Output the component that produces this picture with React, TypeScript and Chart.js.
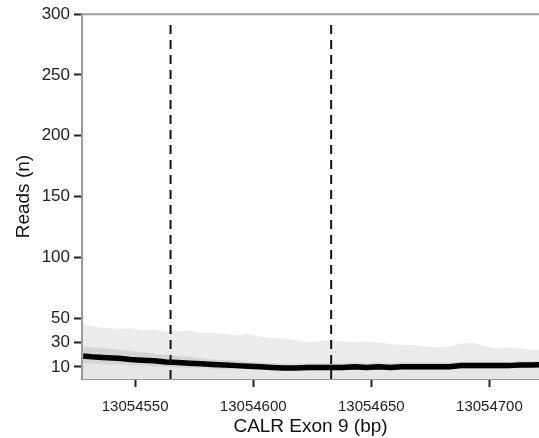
import React, { useEffect, useRef } from "react";
import { Chart, registerables } from "chart.js";

Chart.register(...registerables);

const positions = [
  13054528, 13054533, 13054538, 13054543, 13054548, 13054553, 13054558, 13054563,
  13054568, 13054573, 13054578, 13054583, 13054588, 13054593, 13054598, 13054603,
  13054608, 13054613, 13054618, 13054623, 13054628, 13054633, 13054638, 13054643,
  13054648, 13054653, 13054658, 13054663, 13054668, 13054673, 13054678, 13054683,
  13054688, 13054693, 13054698, 13054703, 13054708, 13054713, 13054718, 13054723,
];
const outerUpper = [
  45, 43, 42, 41, 42, 40, 41, 39, 39, 40, 38, 38, 37, 36, 37, 35,
  34, 33, 32, 30, 31, 32, 31, 30, 31, 30, 29, 28, 28, 27, 26, 27,
  29, 30, 27, 25, 26, 25, 24, 24,
];
const innerUpper = [
  27, 26, 25, 24, 23, 22, 21, 20, 19, 18, 17, 16, 15.5, 15, 14, 13.5,
  13, 12.5, 12.5, 13, 13, 13, 13, 13.5, 13, 13.5, 13, 13.5, 13.5, 13.5, 13.5, 13.5,
  14, 14, 14, 14, 14, 14.5, 14.5, 15,
];
const innerLower = [
  13, 12.5, 12, 12, 11, 11, 10.5, 10, 9.5, 9, 9, 8.5, 8, 8, 8, 7.5,
  7, 7, 7, 7, 7, 7, 7, 7.5, 7, 7.5, 7, 7.5, 7.5, 7.5, 7.5, 7.5,
  8.5, 8.5, 8.5, 8.5, 8.5, 9, 9, 9.5,
];
const meanReads = [
  19, 18, 17.5, 17, 16, 15.5, 15, 14, 13.5, 13, 12.5, 12, 11.5, 11, 10.5, 10,
  9.5, 9, 9, 9.5, 9.5, 9.5, 9.5, 10, 9.5, 10, 9.5, 10, 10, 10, 10, 10,
  11, 11, 11, 11, 11, 11.5, 11.5, 12,
];
const exonBounds = [13054565, 13054633];
const dashTop = 292;
const xTicks = [13054550, 13054600, 13054650, 13054700];
const yTicks = [10, 30, 50, 100, 150, 200, 250, 300];
const xMin = 13054527.5;
const xMax = 13054721;

const pts = (ys: number[]) => positions.map((x, i) => ({ x, y: ys[i] }));

const topBorder = {
  id: "topBorder",
  afterDraw(chart: any) {
    const { ctx, chartArea } = chart;
    ctx.save();
    ctx.strokeStyle = "#9a9a9a";
    ctx.lineWidth = 2;
    ctx.beginPath();
    ctx.moveTo(chartArea.left, chartArea.top);
    ctx.lineTo(chartArea.right, chartArea.top);
    ctx.stroke();
    ctx.restore();
  },
};

export default function App() {
  const ref = useRef<HTMLCanvasElement>(null);
  useEffect(() => {
    if (!ref.current) return;
    const datasets: any[] = [
      {
        data: pts(outerUpper),
        borderWidth: 0,
        pointRadius: 0,
        fill: "origin",
        backgroundColor: "#ebebeb",
        order: 4,
      },
      {
        data: pts(innerUpper),
        borderWidth: 0,
        pointRadius: 0,
        fill: "origin",
        backgroundColor: "#d5d5d5",
        order: 3,
      },
      {
        data: pts(innerLower),
        borderWidth: 0,
        pointRadius: 0,
        fill: "origin",
        backgroundColor: "#e6e6e6",
        order: 2,
      },
      {
        data: pts(meanReads),
        borderColor: "#000",
        borderWidth: 5.5,
        pointRadius: 0,
        fill: false,
        order: 1,
      },
      ...exonBounds.map((b) => ({
        data: [
          { x: b, y: 0 },
          { x: b, y: dashTop },
        ],
        borderColor: "#111",
        borderWidth: 2,
        borderDash: [9, 6],
        pointRadius: 0,
        fill: false,
        order: 0,
      })),
    ];
    const chart = new Chart(ref.current, {
      type: "line",
      data: { datasets },
      plugins: [topBorder],
      options: {
        responsive: false,
        animation: false,
        layout: { padding: { top: 13, left: 0, right: 0, bottom: 0 } },
        plugins: { legend: { display: false }, tooltip: { enabled: false } },
        scales: {
          x: {
            type: "linear",
            min: xMin,
            max: xMax,
            afterBuildTicks: (s: any) => {
              s.ticks = xTicks.map((v) => ({ value: v }));
            },
            afterFit: (s: any) => {
              s.height = 59;
            },
            grid: {
              drawOnChartArea: false,
              drawTicks: true,
              tickLength: 8,
              tickColor: "#222",
              tickWidth: 2,
            },
            border: { display: true, color: "#9a9a9a", width: 2 },
            ticks: {
              padding: 11,
              color: "#222",
              font: { family: "Liberation Sans", size: 15 },
              callback: (v: any) => String(v),
              maxRotation: 0,
              autoSkip: false,
            },
            title: {
              display: true,
              text: "CALR Exon 9 (bp)",
              color: "#111",
              font: { family: "Liberation Sans", size: 19 },
              padding: { top: 0, bottom: 0 },
            },
          },
          y: {
            type: "linear",
            min: 0,
            max: 300,
            afterBuildTicks: (s: any) => {
              s.ticks = yTicks.map((v) => ({ value: v }));
            },
            afterFit: (s: any) => {
              s.width = 82;
            },
            grid: {
              drawOnChartArea: false,
              drawTicks: true,
              tickLength: 8,
              tickColor: "#222",
              tickWidth: 2,
            },
            border: { display: true, color: "#9a9a9a", width: 2 },
            ticks: {
              padding: 4,
              color: "#222",
              font: { family: "Liberation Sans", size: 17 },
              autoSkip: false,
            },
            title: {
              display: true,
              text: "Reads (n)",
              color: "#111",
              font: { family: "Liberation Sans", size: 19 },
              padding: { top: 12, bottom: 0 },
            },
          },
        },
      },
    });
    return () => chart.destroy();
  }, []);
  return (
    <div style={{ position: "fixed", left: 0, top: 0, width: 539, height: 438, background: "#fff" }}>
      <canvas ref={ref} width={539} height={438} style={{ display: "block" }} />
    </div>
  );
}
